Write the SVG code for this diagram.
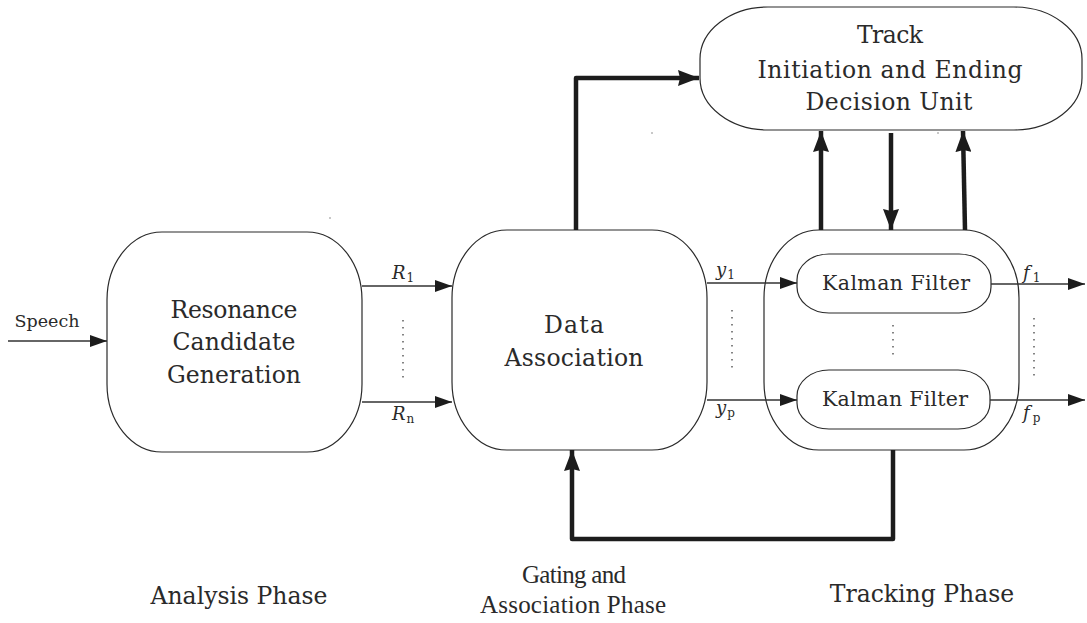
<svg xmlns="http://www.w3.org/2000/svg" width="1087" height="623" viewBox="0 0 1087 623">
  <defs>
    <style>
      .box { fill: #ffffff; stroke: #2a2a2a; stroke-width: 1.2; }
      .frame { fill: none; stroke: #2a2a2a; stroke-width: 1.2; }
      .thin { fill: none; stroke: #333333; stroke-width: 1.4; }
      .thick { fill: none; stroke: #1c1c1c; stroke-width: 4.5; stroke-linejoin: round; }
      .dots { fill: none; stroke: #333333; stroke-width: 1.2; stroke-dasharray: 1.5 5.5; }
      .lbl { font-family: "DejaVu Serif", "Liberation Serif", serif; fill: #2a2a2a; text-anchor: middle; }
      .narrow { font-family: "Liberation Serif", "DejaVu Serif", serif; font-size: 25px; }
      .big { font-size: 23.5px; }
      .mid { font-size: 20.5px; }
      .small { font-size: 17.5px; }
      .math { font-family: "DejaVu Serif", "Liberation Serif", serif; font-style: italic; fill: #2a2a2a; font-size: 18px; }
      .sub { font-style: normal; font-size: 12px; }
    </style>
    <marker id="ah" markerUnits="userSpaceOnUse" markerWidth="17" markerHeight="12" refX="17" refY="6" orient="auto">
      <path d="M0,0 L17,6 L0,12 Z" fill="#1c1c1c"/>
    </marker>
    <marker id="ahb" markerUnits="userSpaceOnUse" markerWidth="21" markerHeight="16" refX="21" refY="8" orient="auto">
      <path d="M0,0 L21,8 L0,16 L2,8 Z" fill="#1c1c1c"/>
    </marker>
  </defs>

  <rect width="1087" height="623" fill="#ffffff"/>

  <!-- analysis stage -->
  <g id="resonance">
    <rect class="box" x="107" y="232" width="255" height="220" rx="55" ry="68"/>
    <text class="lbl big" x="234" y="318" textLength="127" lengthAdjust="spacing">Resonance</text>
    <text class="lbl big" x="234" y="350" textLength="123" lengthAdjust="spacing">Candidate</text>
    <text class="lbl big" x="234" y="383" textLength="134" lengthAdjust="spacing">Generation</text>
  </g>

  <!-- gating / association stage -->
  <g id="association">
    <rect class="box" x="452" y="230" width="255" height="220" rx="55" ry="68"/>
    <text class="lbl big" x="574" y="333" textLength="60" lengthAdjust="spacing">Data</text>
    <text class="lbl big" x="574" y="366" textLength="139" lengthAdjust="spacing">Association</text>
  </g>

  <!-- tracking stage -->
  <g id="tracking">
    <rect class="frame" x="764" y="230" width="255" height="220" rx="55" ry="68"/>
  </g>
  <g id="kalman1">
    <rect class="box" x="797" y="254" width="194" height="59" rx="32" ry="26"/>
    <text class="lbl mid" x="896" y="290" textLength="148" lengthAdjust="spacing">Kalman Filter</text>
  </g>
  <g id="kalman2">
    <rect class="box" x="797" y="370" width="193" height="59" rx="32" ry="26"/>
    <text class="lbl mid" x="895" y="406" textLength="146" lengthAdjust="spacing">Kalman Filter</text>
  </g>

  <!-- track management -->
  <g id="trackunit">
    <rect class="box" x="700" y="7" width="382" height="123" rx="68" ry="52"/>
    <text class="lbl big" x="890" y="43" textLength="66" lengthAdjust="spacing">Track</text>
    <text class="lbl big" x="890" y="78" textLength="265" lengthAdjust="spacing">Initiation and Ending</text>
    <text class="lbl big" x="889" y="110" textLength="167" lengthAdjust="spacing">Decision Unit</text>
  </g>

  <!-- connectors -->
  <g id="connectors">
    <line class="thin" x1="8" y1="341" x2="107" y2="341" marker-end="url(#ah)"/>
    <line class="thin" x1="362" y1="286" x2="452" y2="286" marker-end="url(#ah)"/>
    <line class="thin" x1="362" y1="402" x2="452" y2="402" marker-end="url(#ah)"/>
    <line class="dots" x1="403" y1="320" x2="403" y2="380"/>
    <line class="thin" x1="707" y1="283" x2="797" y2="283" marker-end="url(#ah)"/>
    <line class="thin" x1="707" y1="400" x2="797" y2="400" marker-end="url(#ah)"/>
    <line class="dots" x1="732" y1="310" x2="732" y2="372"/>
    <line class="thin" x1="991" y1="284" x2="1085" y2="284" marker-end="url(#ah)"/>
    <line class="thin" x1="990" y1="400" x2="1085" y2="400" marker-end="url(#ah)"/>
    <line class="dots" x1="1034" y1="318" x2="1034" y2="380"/>
    <line class="dots" x1="893" y1="325" x2="893" y2="358"/>

    <polyline class="thick" points="576,230 576,78 699,78" marker-end="url(#ahb)"/>
    <line class="thick" x1="821" y1="230" x2="821" y2="131" marker-end="url(#ahb)"/>
    <line class="thick" x1="891" y1="133" x2="891" y2="230" marker-end="url(#ahb)"/>
    <line class="thick" x1="965" y1="230" x2="963" y2="131" marker-end="url(#ahb)"/>
    <polyline class="thick" points="893,450 893,539 572,539 572,450" marker-end="url(#ahb)"/>
  </g>

  <!-- signal labels -->
  <g id="labels">
    <text class="lbl small" x="47" y="327" textLength="65" lengthAdjust="spacing">Speech</text>
    <text class="math" x="392" y="279">R<tspan class="sub" dx="1" dy="3">1</tspan></text>
    <text class="math" x="392" y="420">R<tspan class="sub" dx="1" dy="3">n</tspan></text>
    <text class="math" x="716" y="276">y<tspan class="sub" dx="1" dy="3">1</tspan></text>
    <text class="math" x="716" y="414">y<tspan class="sub" dx="1" dy="3">p</tspan></text>
    <text class="math" x="1023" y="279">f<tspan class="sub" dx="3" dy="3">1</tspan></text>
    <text class="math" x="1023" y="419">f<tspan class="sub" dx="3" dy="3">p</tspan></text>
  </g>

  <!-- phase captions -->
  <g id="phases">
    <text class="lbl big" x="239" y="604">Analysis Phase</text>
    <text class="lbl narrow" x="574" y="583" textLength="104" lengthAdjust="spacing">Gating and</text>
    <text class="lbl narrow" x="573" y="613" textLength="186" lengthAdjust="spacing">Association Phase</text>
    <text class="lbl big" x="922" y="602">Tracking Phase</text>
  </g>

  <!-- specks -->
  <g id="specks" fill="#666666">
    <circle cx="330" cy="218" r="0.7"/>
    <circle cx="652" cy="133" r="0.7"/>
    <circle cx="938" cy="133" r="0.7"/>
  </g>
</svg>
